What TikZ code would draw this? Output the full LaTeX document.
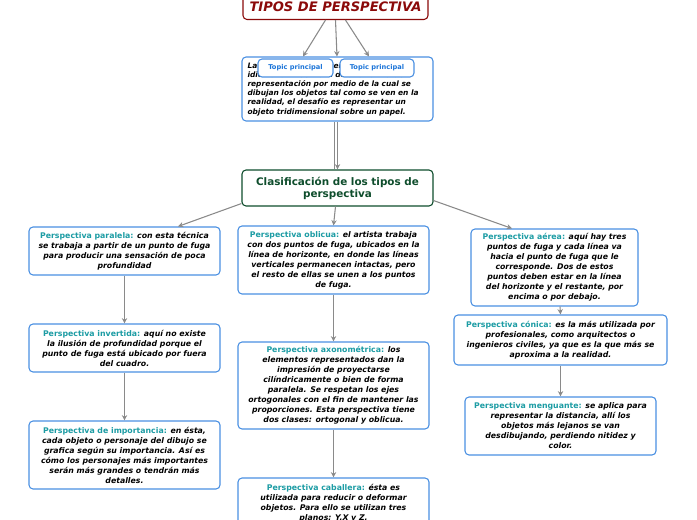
\documentclass[tikz,border=0pt]{standalone}
\usepackage{fontspec}
\setmainfont{DejaVu Sans}
\usetikzlibrary{arrows.meta,calc}
\definecolor{boxblue}{HTML}{4A90E2}
\definecolor{labteal}{HTML}{1C9CA4}
\definecolor{titlered}{HTML}{8B0A0A}
\definecolor{darkgreen}{HTML}{0E4D2C}
\definecolor{topicblue}{HTML}{1B74D8}
\definecolor{arrowgray}{HTML}{8A8A8A}
\newdimen\px \px=0.75pt
\newcommand{\lab}[1]{{\upshape\color{labteal}#1}}
\newcommand{\bodyfont}{\fontsize{5.85}{7.5}\selectfont\bfseries\itshape}
\tikzset{
  box/.style={draw=boxblue, line width=0.8pt, rounded corners=3pt, fill=white,
    align=center, font=\bodyfont, inner sep=0pt, minimum width=191\px},
  topicbox/.style={draw=boxblue, line width=0.8pt, rounded corners=3pt, fill=white,
    font=\fontsize{5}{6}\selectfont\bfseries, text=topicblue, inner sep=0pt,
    minimum width=75\px, minimum height=18\px},
  conn/.style={draw=arrowgray, line width=0.8pt, -{Stealth[length=4pt,width=4pt]}},
  plainconn/.style={draw=arrowgray, line width=0.8pt},
}
\begin{document}
\begin{tikzpicture}[x=0.75pt,y=-0.75pt]
\useasboundingbox (0,0) rectangle (697,520);
\clip (0,0) rectangle (697,520);

\node[draw=titlered, line width=0.8pt, rounded corners=3pt, fill=white,
  minimum width=185\px, minimum height=26\px, inner sep=0pt,
  font=\fontsize{9.8}{11}\selectfont\bfseries\itshape, text=titlered]
  (title) at (335.5,6.5) {TIPOS DE PERSPECTIVA};

\node[box, minimum height=64\px, align=left, text width=180\px,
  font=\fontsize{5.6}{6.9}\selectfont\bfseries\itshape] (main) at (337.5,89)
 {La perspectiva, proveniente del\\
  idioma latín se trata de una forma de\\
  representación por medio de la cual se\\
  dibujan los objetos tal como se ven en la\\
  realidad, el desafío es representar un\\
  objeto tridimensional sobre un papel.};

\node[topicbox] (tp1) at (295.5,68) {Topic principal};
\node[topicbox, minimum width=74\px] (tp2) at (377,68) {Topic principal};

\draw[conn] ($(title.south)+(-10,0)$) -- ($(main.north)+(-34.5,0)$);
\draw[conn] ($(title.south)+(0,0)$) -- ($(main.north)+(-0.5,0)$);
\draw[conn] ($(title.south)+(10,0)$) -- ($(main.north)+(31.5,0)$);

\node[draw=darkgreen, line width=0.8pt, rounded corners=3pt, fill=white,
  minimum width=191\px, minimum height=36\px, inner sep=0pt, align=center,
  font=\fontsize{7.8}{9}\selectfont\bfseries, text=darkgreen]
  (clas) at (337.5,188) {Clasificación de los tipos de\\perspectiva};

\draw[plainconn] ($(main.south)+(-3,0)$) -- ($(clas.north)+(-3,0)$);
\draw[conn] ($(main.south)+(0,0)$) -- ($(clas.north)+(0,0)$);

\node[box, minimum height=48\px] (par) at (124.5,251)
 {\lab{Perspectiva paralela:} con esta técnica\\
  se trabaja a partir de un punto de fuga\\
  para producir una sensación de poca\\
  profundidad};

\node[box, minimum height=68\px] (obl) at (333.5,260)
 {\lab{Perspectiva oblicua:} el artista trabaja\\
  con dos puntos de fuga, ubicados en la\\
  línea de horizonte, en donde las líneas\\
  verticales permanecen intactas, pero\\
  el resto de ellas se unen a los puntos\\
  de fuga.};

\node[box, minimum width=167\px, minimum height=77\px] (aer) at (554.5,267.5)
 {\lab{Perspectiva aérea:} aquí hay tres\\
  puntos de fuga y cada línea va\\
  hacia el punto de fuga que le\\
  corresponde. Dos de estos\\
  puntos deben estar en la línea\\
  del horizonte y el restante, por\\
  encima o por debajo.};

\node[box, minimum height=48\px] (inv) at (124.5,348)
 {\lab{Perspectiva invertida:} aquí no existe\\
  la ilusión de profundidad porque el\\
  punto de fuga está ubicado por fuera\\
  del cuadro.};

\node[box, minimum height=87\px] (axo) at (333.5,385.5)
 {\lab{Perspectiva axonométrica:} los\\
  elementos representados dan la\\
  impresión de proyectarse\\
  cilíndricamente o bien de forma\\
  paralela. Se respetan los ejes\\
  ortogonales con el fin de mantener las\\
  proporciones. Esta perspectiva tiene\\
  dos clases: ortogonal y oblicua.};

\node[box, minimum width=213\px, minimum height=50\px] (con) at (560.5,340)
 {\lab{Perspectiva cónica:} es la más utilizada por\\
  profesionales, como arquitectos o\\
  ingenieros civiles, ya que es la que más se\\
  aproxima a la realidad.};

\node[box, minimum height=68\px] (imp) at (124.5,455)
 {\lab{Perspectiva de importancia:} en ésta,\\
  cada objeto o personaje del dibujo se\\
  grafica según su importancia. Así es\\
  cómo los personajes más importantes\\
  serán más grandes o tendrán más\\
  detalles.};

\node[box, minimum height=58\px] (men) at (560.5,426)
 {\lab{Perspectiva menguante:} se aplica para\\
  representar la distancia, allí los\\
  objetos más lejanos se van\\
  desdibujando, perdiendo nitidez y\\
  color.};

\node[box, minimum height=50\px] (cab) at (333.5,503)
 {\lab{Perspectiva caballera:} ésta es\\
  utilizada para reducir o deformar\\
  objetos. Para ello se utilizan tres\\
  planos: Y,X y Z.};

\draw[conn] ($(clas.south west)+(0,-3)$) -- ($(par.north)+(53.5,0)$);
\draw[conn] ($(clas.south)+(-2,0)$) -- (obl.north);
\draw[conn] ($(clas.south east)+(0,-6)$) -- ($(aer.north)+(-42.5,0)$);
\draw[conn] (par.south) -- (inv.north);
\draw[conn] (inv.south) -- (imp.north);
\draw[conn] (obl.south) -- (axo.north);
\draw[conn] (axo.south) -- (cab.north);
\draw[conn] ($(aer.south)+(5.5,0)$) -- (con.north);
\draw[conn] (con.south) -- (men.north);
\end{tikzpicture}
\end{document}
